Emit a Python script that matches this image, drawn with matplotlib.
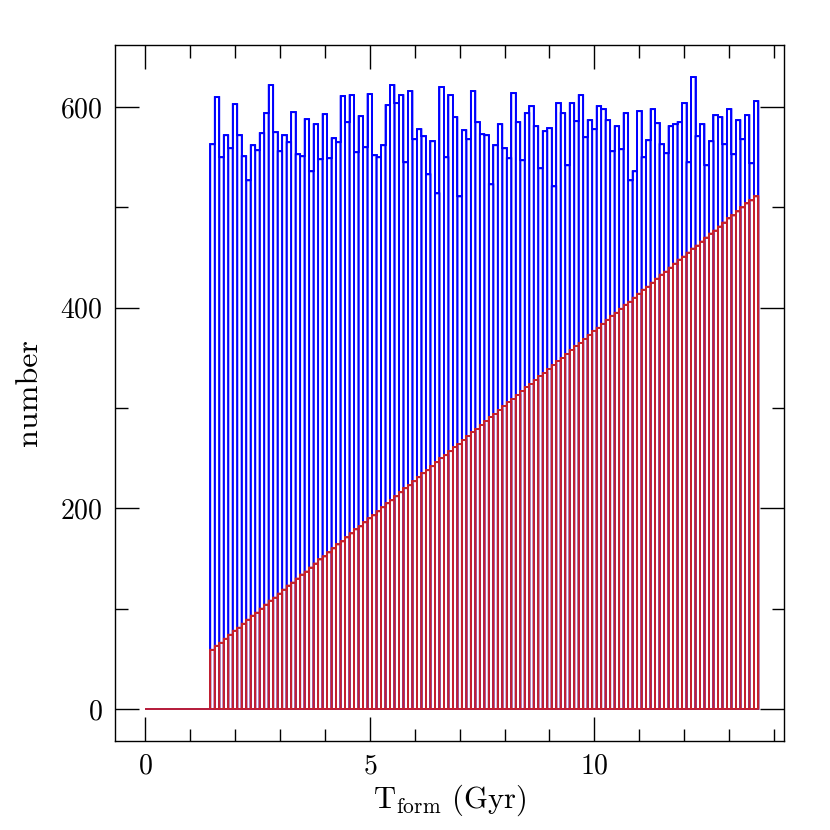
import numpy as np
import matplotlib
matplotlib.use("Agg")
import matplotlib.pyplot as plt
from matplotlib.ticker import MultipleLocator

plt.rcParams['font.family'] = ['cmr10', 'DejaVu Serif']
plt.rcParams['mathtext.fontset'] = 'cm'
plt.rcParams['axes.formatter.use_mathtext'] = True

# histogram bins (Gyr); empty before the first edge
t_zero_start = 0.0
bin_start = 1.45
bin_width = 0.1

all_counts = [
    563, 610, 550, 572, 559, 603, 572, 551, 527, 562, 557, 574, 594, 622, 575, 556, 572, 565, 595, 553,
    551, 588, 536, 583, 548, 593, 549, 569, 565, 611, 585, 612, 555, 591, 560, 613, 552, 550, 562, 602,
    622, 604, 612, 545, 616, 568, 578, 571, 533, 566, 514, 620, 550, 612, 590, 511, 577, 568, 616, 585,
    573, 572, 523, 562, 583, 559, 549, 614, 585, 547, 594, 601, 581, 539, 576, 579, 521, 604, 594, 542,
    604, 586, 612, 570, 587, 578, 601, 598, 587, 556, 581, 558, 594, 527, 536, 596, 550, 567, 598, 584,
    563, 554, 581, 583, 585, 604, 545, 630, 571, 583, 542, 566, 592, 590, 563, 598, 553, 587, 568, 592,
    544, 606,
]

sel_counts = [
    59, 63, 66, 70, 74, 78, 81, 85, 89, 93, 96, 100, 104, 108, 111, 115, 119, 123, 126, 130,
    134, 137, 141, 145, 149, 152, 156, 160, 164, 167, 171, 175, 179, 182, 186, 190, 193, 197, 201, 205,
    208, 212, 216, 220, 223, 227, 231, 235, 238, 242, 246, 250, 253, 257, 261, 264, 268, 272, 276, 279,
    283, 287, 291, 294, 298, 302, 306, 309, 313, 317, 321, 324, 328, 332, 335, 339, 343, 347, 350, 354,
    358, 362, 365, 369, 373, 377, 380, 384, 388, 392, 395, 399, 403, 406, 410, 414, 418, 421, 425, 429,
    433, 436, 440, 444, 448, 451, 455, 459, 462, 466, 470, 474, 477, 481, 485, 489, 492, 496, 500, 504,
    507, 511,
]

edges = bin_start + bin_width * np.arange(len(all_counts) + 1)


def draw_hist(ax, counts, color):
    # outline of every bin down to zero, plus the connected step on top
    ax.bar(edges[:-1], counts, width=bin_width, align='edge', fill=False,
           edgecolor=color, linewidth=1.3, snap=False)
    ax.stairs(counts, edges, color=color, linewidth=1.3, baseline=0)
    ax.hlines(0, t_zero_start, bin_start, color=color, linewidth=1.3)


fig = plt.figure(figsize=(8.3, 8.3), dpi=100)
ax = fig.add_axes([0.1386, 0.1072, 0.806, 0.8386])

draw_hist(ax, all_counts, '#0000ff')
draw_hist(ax, sel_counts, '#c8202a')

ax.set_xlim(-0.67, 14.22)
ax.set_ylim(-32, 662)

ax.xaxis.set_major_locator(MultipleLocator(5))
ax.xaxis.set_minor_locator(MultipleLocator(1))
ax.yaxis.set_major_locator(MultipleLocator(200))
ax.yaxis.set_minor_locator(MultipleLocator(100))
ax.tick_params(which='both', direction='in', top=True, right=True, width=1.0,
               labelsize=20, pad=9)
ax.tick_params(which='major', length=17)
ax.tick_params(which='minor', length=9)
for s in ax.spines.values():
    s.set_linewidth(1.0)

ax.set_xlabel(r'T$_{\rm form}$ (Gyr)', fontsize=22, labelpad=2)
ax.set_ylabel('number', fontsize=23, labelpad=12)

fig.savefig('out.png', dpi=100)
